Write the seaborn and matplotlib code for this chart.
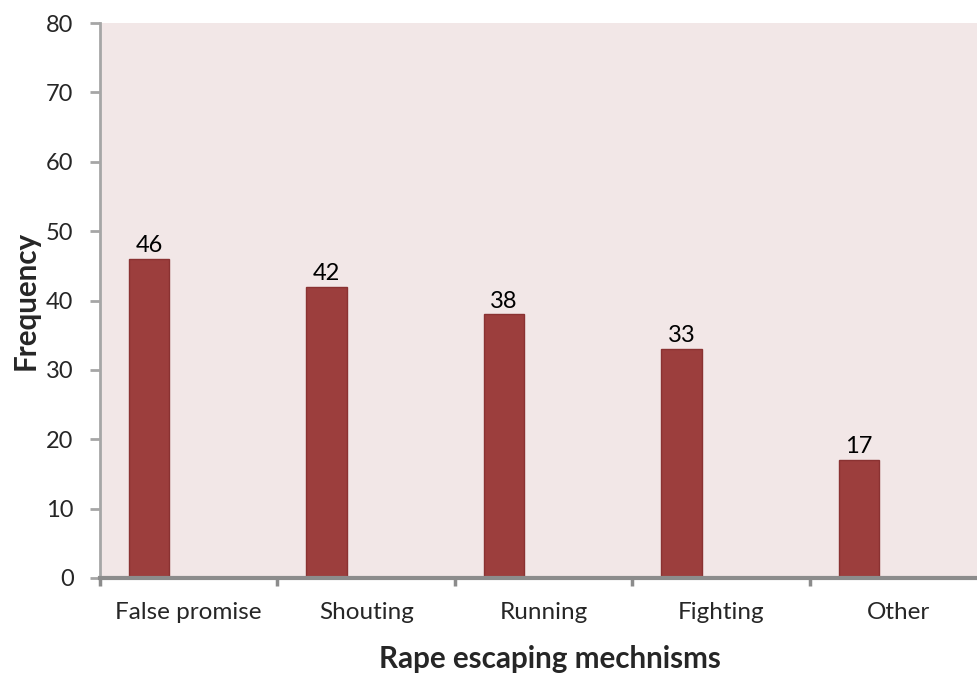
import matplotlib
matplotlib.use("Agg")
import matplotlib.pyplot as plt
import seaborn as sns
import pandas as pd

# Escape mechanisms and how often each was reported
mechanisms = ["False promise", "Shouting", "Running", "Fighting", "Other"]
frequency = [46, 42, 38, 33, 17]
y_ticks = [0, 10, 20, 30, 40, 50, 60, 70, 80]

bar_color = "#9C3E3D"
edge_color = "#8A3232"
panel_color = "#F2E7E7"
axis_gray = "#8C8C8C"

sns.set_theme(style="white")
plt.rcParams["font.family"] = ["Lato", "DejaVu Sans"]

fig = plt.figure(figsize=(9.78, 6.73), dpi=100)
ax = fig.add_axes([100 / 978, 1 - 578 / 673, 878 / 978, 555 / 673])
ax.set_facecolor(panel_color)

# Each bar sits in the left part of its category slot
shift = -0.224
df = pd.DataFrame({"pos": [i + shift for i in range(len(mechanisms))],
                   "freq": frequency})
sns.barplot(data=df, x="pos", y="freq", native_scale=True, width=0.229,
            color=bar_color, edgecolor=edge_color, linewidth=1,
            saturation=1, ax=ax)

for p, v in zip(ax.patches, frequency):
    ax.annotate(f"{v}", (p.get_x() + p.get_width() / 2, v),
                xytext=(0, 2), textcoords="offset points",
                ha="center", va="bottom", fontsize=17, color="black")

ax.set_xlim(-0.5, 4.447)
ax.set_ylim(0, 80)
ax.set_yticks(y_ticks)
ax.set_yticklabels([str(t) for t in y_ticks], fontsize=17)

# category labels centred in their slots, tick marks on slot boundaries
ax.set_xticks([i - 0.5 for i in range(len(mechanisms))])
ax.set_xticklabels([])
ax.set_xticks(range(len(mechanisms)), minor=True)
ax.set_xticklabels(mechanisms, minor=True, fontsize=17.5)
ax.tick_params(axis="x", which="minor", length=0, pad=17)
ax.tick_params(axis="x", which="major", length=6, width=2.5,
               color=axis_gray, direction="out", bottom=True)
ax.tick_params(axis="y", length=7, width=2, color="#A6A6A6",
               direction="out", left=True, pad=12)

for side in ["top", "right"]:
    ax.spines[side].set_visible(False)
ax.spines["left"].set_color("#A6A6A6")
ax.spines["left"].set_linewidth(2)
ax.spines["bottom"].set_color(axis_gray)
ax.spines["bottom"].set_linewidth(3)

ax.set_xlabel("Rape escaping mechnisms", fontsize=21.3, fontweight="bold")
ax.xaxis.set_label_coords(450 / 878, -67 / 555)
ax.set_ylabel("Frequency", fontsize=21.3, fontweight="bold")
ax.yaxis.set_label_coords(-60 / 878, 0.5)
ax.grid(False)

fig.savefig("out.png", dpi=100)
